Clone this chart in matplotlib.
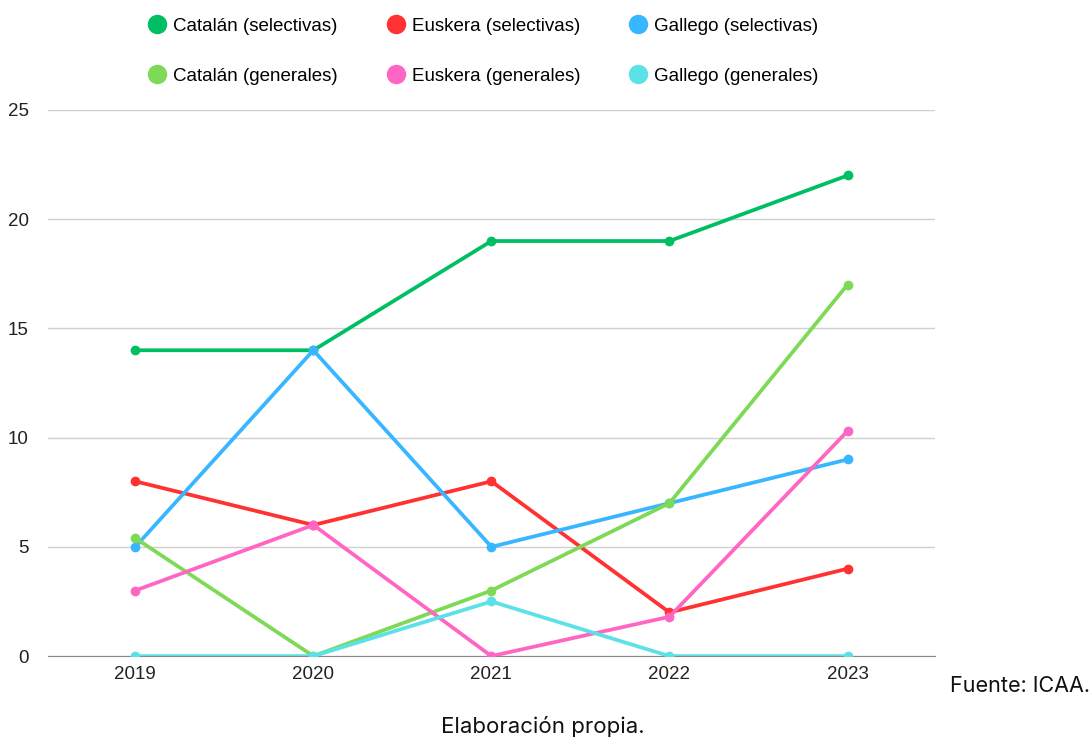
import matplotlib.pyplot as plt
from matplotlib.lines import Line2D

years = ["2019", "2020", "2021", "2022", "2023"]

catalan_sel = [14, 14, 19, 19, 22]
euskera_sel = [8, 6, 8, 2, 4]
gallego_sel = [5, 14, 5, 7, 9]
catalan_gen = [5.4, 0, 3, 7, 17]
euskera_gen = [3, 6, 0, 1.8, 10.3]
gallego_gen = [0, 0, 2.5, 0, 0]

series = [
    ("Catalán (selectivas)", catalan_sel, "#00BF63"),
    ("Euskera (selectivas)", euskera_sel, "#FF3131"),
    ("Gallego (selectivas)", gallego_sel, "#38B6FF"),
    ("Catalán (generales)", catalan_gen, "#7ED957"),
    ("Euskera (generales)", euskera_gen, "#FF66C4"),
    ("Gallego (generales)", gallego_gen, "#5CE1E6"),
]

plt.rcParams['font.family'] = ['Liberation Sans', 'DejaVu Sans']

fig = plt.figure(figsize=(10.92, 7.38), dpi=100)
ax = fig.add_axes([0.044, 0.111, 0.812, 0.74])

x = range(len(years))
for name, vals, col in series:
    ax.plot(x, vals, color=col, lw=2.7, marker="o", ms=6, label=name,
            solid_capstyle="round", zorder=3)

ax.set_xlim(-0.49, 4.49)
ax.set_ylim(0, 25)
ax.set_yticks([0, 5, 10, 15, 20, 25])
ax.set_xticks(list(x))
ax.set_xticklabels(years)
ax.tick_params(length=0, labelsize=13.5, colors="#222222")
ax.tick_params(axis="y", pad=14)
ax.tick_params(axis="x", pad=7)
ax.grid(axis="y", color="#d0d0d0", lw=1)
ax.set_axisbelow(True)
for s in ["top", "right", "left"]:
    ax.spines[s].set_visible(False)
ax.spines["bottom"].set_color("#888888")
ax.spines["bottom"].set_zorder(2)

# legend laid out row by row (matplotlib fills columns first)
order = [0, 3, 1, 4, 2, 5]
handles = [Line2D([], [], ls="none", marker="o", ms=13, color=series[i][2]) for i in order]
labels = [series[i][0] for i in order]
fig.legend(handles, labels, ncol=3, loc="upper center", bbox_to_anchor=(0.4425, 0.999),
           frameon=False, labelspacing=1.75, columnspacing=2.6,
           handletextpad=0.35, handlelength=1.0,
           prop={'family': ['Liberation Sans'], 'size': 13.5})

fig.text(0.87, 0.062, "Fuente: ICAA.", fontsize=15.5, family="Inter", color="#111111")
fig.text(0.497, 0.002, "Elaboración propia.", fontsize=16, family="Inter",
         color="#111111", ha="center", va="bottom")

fig.savefig("out.png", dpi=100)
